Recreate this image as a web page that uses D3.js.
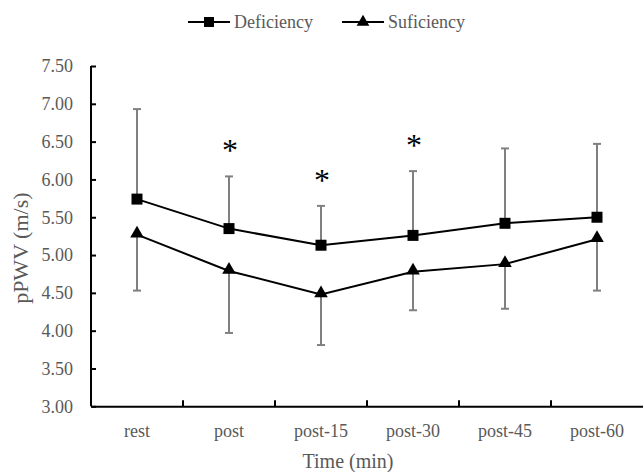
<!DOCTYPE html>
<html>
<head>
<meta charset="utf-8">
<title>pPWV over time</title>
<script src="https://d3js.org/d3.v7.min.js"></script>
<style>
  body { margin: 0; background: #fff; }
  text { font-family: "Liberation Serif", "Times New Roman", serif; }
</style>
</head>
<body>
<div id="chart"></div>
<script>
// chart values
const categories = ["rest", "post", "post-15", "post-30", "post-45", "post-60"];
const deficiency = [5.74, 5.35, 5.13, 5.26, 5.42, 5.50];
const deficiencyUpper = [6.93, 6.04, 5.65, 6.11, 6.41, 6.47];
const sufficiency = [5.27, 4.79, 4.48, 4.78, 4.88, 5.21];
const sufficiencyLower = [4.53, 3.97, 3.81, 4.27, 4.29, 4.53];
const starred = ["post", "post-15", "post-30"];
const yTicks = [3, 3.5, 4, 4.5, 5, 5.5, 6, 6.5, 7, 7.5];

const width = 643, height = 472;
const margin = { top: 66, right: 0, bottom: 66, left: 91 };

const svg = d3.select("#chart").append("svg")
  .attr("width", width)
  .attr("height", height);

const x = d3.scaleBand()
  .domain(categories)
  .range([margin.left, width - margin.right]);

const y = d3.scaleLinear()
  .domain([3, 7.5])
  .range([height - margin.bottom + 0.3, margin.top]);

const cx = d => x(d) + x.bandwidth() / 2;
const labelColor = "#595959";

// y axis
const yAxis = svg.append("g")
  .attr("transform", `translate(${margin.left},0)`)
  .call(d3.axisLeft(y).tickValues(yTicks).tickSize(-5).tickPadding(18)
    .tickFormat(d3.format(".2f")));
yAxis.select(".domain").attr("stroke", "#000").attr("stroke-width", 2)
  .attr("d", `M0,${y(7.5)}V${y(3)}`);
yAxis.selectAll(".tick line").attr("stroke", "#000").attr("stroke-width", 2);
yAxis.selectAll(".tick text").attr("fill", labelColor).attr("font-size", 18);

// x axis
const xAxis = svg.append("g")
  .attr("transform", `translate(0,${y(3)})`)
  .call(d3.axisBottom(x).tickSize(0).tickPadding(18));
xAxis.select(".domain").attr("stroke", "#000").attr("stroke-width", 2);
xAxis.selectAll(".tick text").attr("fill", labelColor).attr("font-size", 18);
xAxis.selectAll(".divider")
  .data(categories.slice(1))
  .enter().append("line")
  .attr("x1", d => x(d)).attr("x2", d => x(d))
  .attr("y1", 0).attr("y2", -6)
  .attr("stroke", "#000").attr("stroke-width", 2);

// axis titles
svg.append("text")
  .attr("transform", `translate(28,${(y(3) + y(7.5)) / 2 + 12}) rotate(-90)`)
  .attr("text-anchor", "middle")
  .attr("fill", labelColor).attr("font-size", 22)
  .text("pPWV (m/s)");

svg.append("text")
  .attr("x", 348).attr("y", 468)
  .attr("text-anchor", "middle")
  .attr("fill", labelColor).attr("font-size", 20)
  .text("Time (min)");

// error bars
const errColor = "#808080";
function errorBars(vals, ends) {
  const g = svg.append("g").attr("stroke", errColor).attr("stroke-width", 2);
  categories.forEach((c, i) => {
    g.append("line")
      .attr("x1", cx(c)).attr("x2", cx(c))
      .attr("y1", y(vals[i])).attr("y2", y(ends[i]));
    g.append("line")
      .attr("x1", cx(c) - 4).attr("x2", cx(c) + 4)
      .attr("y1", y(ends[i])).attr("y2", y(ends[i]));
  });
}
errorBars(deficiency, deficiencyUpper);
errorBars(sufficiency, sufficiencyLower);

// lines
const line = d3.line().x((d, i) => cx(categories[i])).y(d => y(d));
[deficiency, sufficiency].forEach(vals => {
  svg.append("path").datum(vals)
    .attr("d", line)
    .attr("fill", "none").attr("stroke", "#000").attr("stroke-width", 2);
});

// markers
const square = d3.symbol().type(d3.symbolSquare).size(121);
const triangle = d3.symbol().type(d3.symbolTriangle).size(80);
svg.append("g").selectAll("path")
  .data(deficiency).enter().append("path")
  .attr("d", square)
  .attr("transform", (d, i) => `translate(${cx(categories[i])},${y(d)})`)
  .attr("fill", "#000");
svg.append("g").selectAll("path")
  .data(sufficiency).enter().append("path")
  .attr("d", triangle)
  .attr("transform", (d, i) => `translate(${cx(categories[i])},${y(d) - 1})`)
  .attr("fill", "#000");

// significance stars
svg.append("g").selectAll("text")
  .data(starred).enter().append("text")
  .attr("x", d => cx(d) + 1)
  .attr("y", d => y(deficiencyUpper[categories.indexOf(d)]) - 15)
  .attr("text-anchor", "middle")
  .attr("font-size", 32)
  .attr("fill", "#000")
  .text("*");

// legend
const legend = [
  { name: "Deficiency", type: d3.symbolSquare, size: 100, x: 188 },
  { name: "Suficiency", type: d3.symbolTriangle, size: 70, x: 342 }
];
const lg = svg.append("g").selectAll("g")
  .data(legend).enter().append("g")
  .attr("transform", d => `translate(${d.x},22)`);
lg.append("line")
  .attr("x1", 0).attr("x2", 42)
  .attr("stroke", "#000").attr("stroke-width", 2);
lg.append("path")
  .attr("d", d => d3.symbol().type(d.type).size(d.size)())
  .attr("transform", "translate(21,0)")
  .attr("fill", "#000");
lg.append("text")
  .attr("x", 46).attr("y", 6)
  .attr("fill", labelColor).attr("font-size", 18)
  .text(d => d.name);
</script>
</body>
</html>
